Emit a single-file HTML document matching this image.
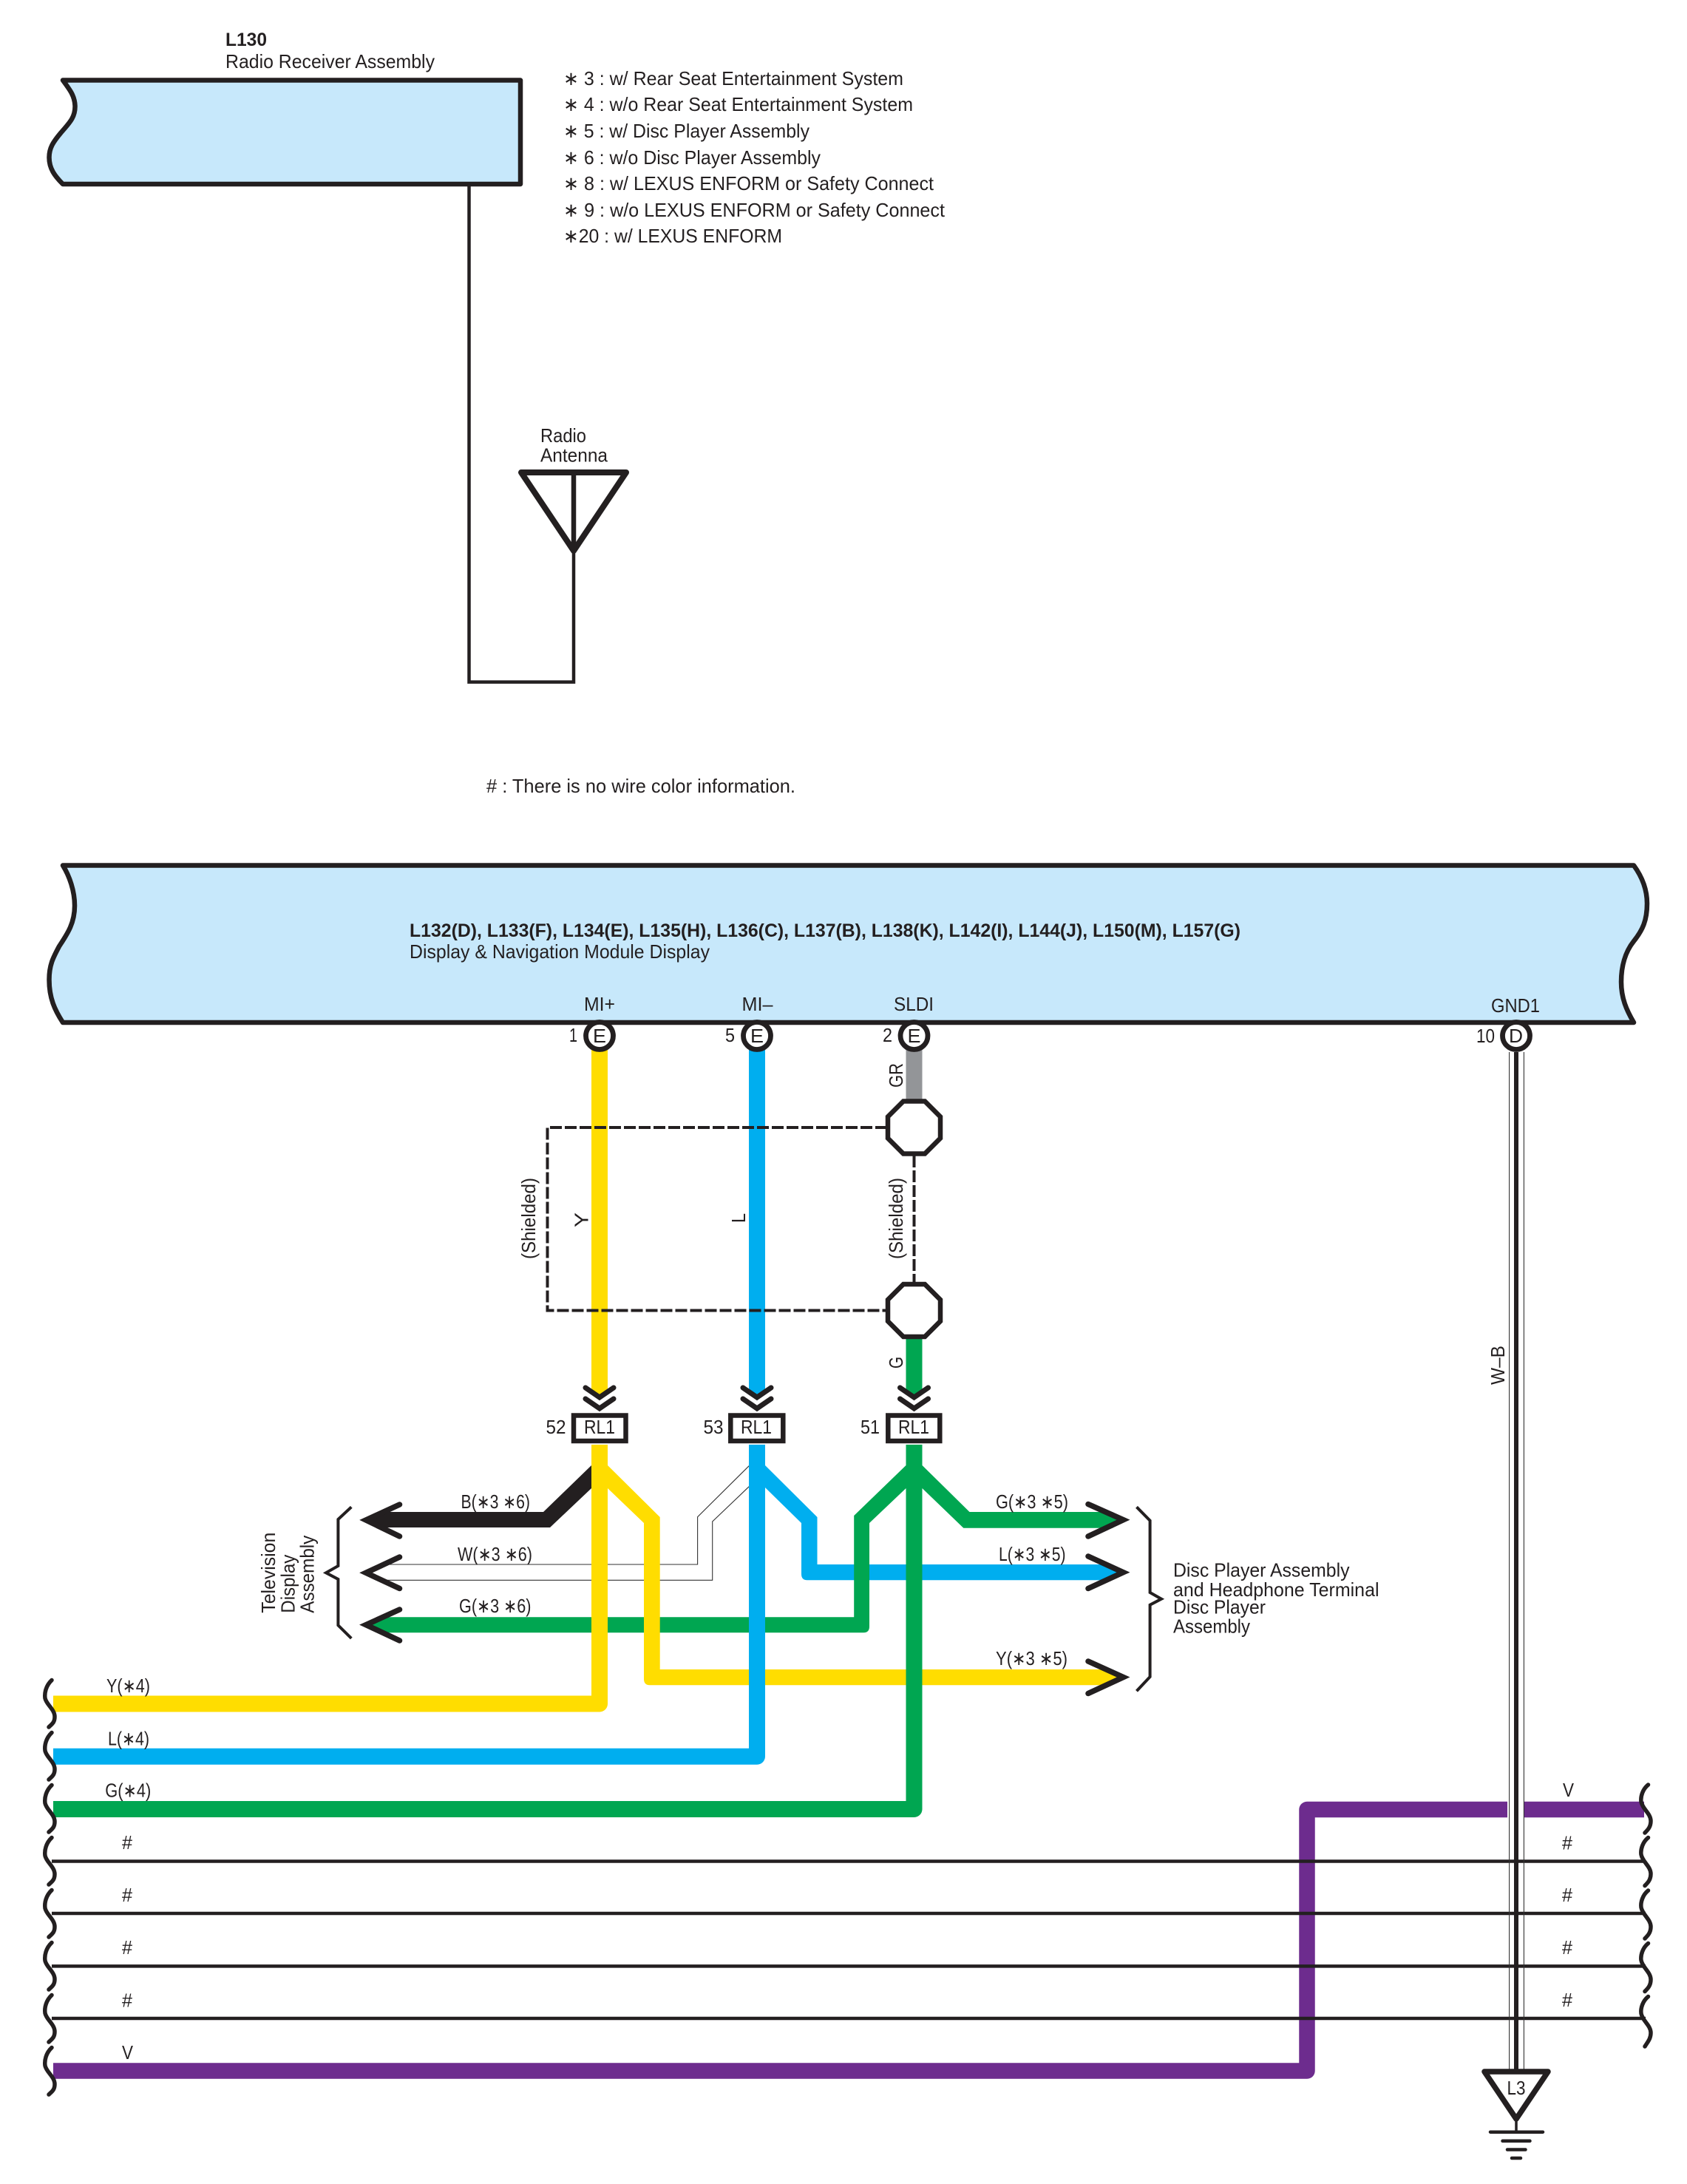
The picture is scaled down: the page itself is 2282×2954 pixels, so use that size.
<!DOCTYPE html>
<html><head><meta charset="utf-8"><title>Wiring diagram</title>
<style>
html,body{margin:0;padding:0;background:#fff}
svg{display:block}
text{font-family:"Liberation Sans","DejaVu Sans",sans-serif;font-size:26px;fill:#231f20}
.b{font-weight:bold;font-size:25px}
</style></head><body>
<svg xmlns="http://www.w3.org/2000/svg" width="2282" height="2954" viewBox="0 0 2282 2954">
<rect width="2282" height="2954" fill="#fff"/>

<!-- Top receiver box -->
<path d="M85 108.500 H704 V249 H85 C74 238 66.500 228 66.500 213 C66.500 200 72 192 82 180 C92 168 102 160 101.500 143 C101 130 95 122 85 108.500Z" fill="#c7e8fb" stroke="#231f20" stroke-width="6.500" stroke-linejoin="round"/>
<text class="b" x="305" y="62" textLength="56" lengthAdjust="spacingAndGlyphs">L130</text>
<text x="305" y="92" textLength="283" lengthAdjust="spacingAndGlyphs">Radio Receiver Assembly</text>

<text x="762" y="115" textLength="460" lengthAdjust="spacingAndGlyphs">∗ 3 : w/ Rear Seat Entertainment System</text>
<text x="762" y="150" textLength="473" lengthAdjust="spacingAndGlyphs">∗ 4 : w/o Rear Seat Entertainment System</text>
<text x="762" y="186" textLength="333" lengthAdjust="spacingAndGlyphs">∗ 5 : w/ Disc Player Assembly</text>
<text x="762" y="222" textLength="348" lengthAdjust="spacingAndGlyphs">∗ 6 : w/o Disc Player Assembly</text>
<text x="762" y="257" textLength="501" lengthAdjust="spacingAndGlyphs">∗ 8 : w/ LEXUS ENFORM or Safety Connect</text>
<text x="762" y="293" textLength="516" lengthAdjust="spacingAndGlyphs">∗ 9 : w/o LEXUS ENFORM or Safety Connect</text>
<text x="762" y="328" textLength="296" lengthAdjust="spacingAndGlyphs">∗20 : w/ LEXUS ENFORM</text>

<!-- Antenna -->
<path d="M634.500 249 V922.500 H776 V747" fill="none" stroke="#231f20" stroke-width="4.500"/>
<path d="M705 639 H847 L776 745 Z" fill="none" stroke="#231f20" stroke-width="8" stroke-linejoin="round"/>
<path d="M776 639 V745" stroke="#231f20" stroke-width="6.500"/>
<text x="731" y="598" textLength="62" lengthAdjust="spacingAndGlyphs">Radio</text>
<text x="731" y="624.500" textLength="91" lengthAdjust="spacingAndGlyphs">Antenna</text>

<text x="658" y="1072" textLength="418" lengthAdjust="spacingAndGlyphs"># : There is no wire color information.</text>

<!-- Main box -->
<path d="M85 1170.500 H2210 C2222 1187 2228 1205 2228 1222 C2228 1245 2222 1258 2210 1273 C2198 1288 2193 1308 2193 1328 C2193 1350 2200 1366 2210 1383 H85 C74 1366 66.500 1350 66.500 1325 C66.500 1305 72 1295 80 1280 C92 1262 101 1248 101 1225 C101 1205 94 1185 85 1170.500Z" fill="#c7e8fb" stroke="#231f20" stroke-width="6.500" stroke-linejoin="round"/>
<text class="b" x="554" y="1267" textLength="1124" lengthAdjust="spacingAndGlyphs">L132(D), L133(F), L134(E), L135(H), L136(C), L137(B), L138(K), L142(I), L144(J), L150(M), L157(G)</text>
<text x="554" y="1296" textLength="406" lengthAdjust="spacingAndGlyphs">Display &amp; Navigation Module Display</text>
<text x="790" y="1367" textLength="42" lengthAdjust="spacingAndGlyphs">MI+</text>
<text x="1003.500" y="1367" textLength="42" lengthAdjust="spacingAndGlyphs">MI–</text>
<text x="1209" y="1367" textLength="54" lengthAdjust="spacingAndGlyphs">SLDI</text>
<text x="2017" y="1369" textLength="66" lengthAdjust="spacingAndGlyphs">GND1</text>

<!-- Top vertical wires -->
<path d="M1013 1420 H1035 V1880 L1024 1889 L1013 1880Z" fill="#00aeef"/>
<path d="M800 1420 H822 V1880 L811 1889 L800 1880Z" fill="#ffdd00"/>
<path d="M1225.500 1420 H1247.500 V1490 H1225.500Z" fill="#939598"/>
<path d="M1225.500 1805 H1247.500 V1880 L1236.500 1889 L1225.500 1880Z" fill="#00a651"/>

<!-- Pins -->
<g fill="#fff" stroke="#231f20" stroke-width="6.800">
<circle cx="811" cy="1401" r="18.500"/><circle cx="1024" cy="1401" r="18.500"/><circle cx="1236.500" cy="1401" r="18.500"/><circle cx="2051" cy="1401" r="18.500"/>
</g>
<text x="802" y="1410" textLength="18" lengthAdjust="spacingAndGlyphs">E</text>
<text x="1015" y="1410" textLength="18" lengthAdjust="spacingAndGlyphs">E</text>
<text x="1227.500" y="1410" textLength="18" lengthAdjust="spacingAndGlyphs">E</text>
<text x="2041" y="1410" textLength="19" lengthAdjust="spacingAndGlyphs">D</text>
<text x="770" y="1409" textLength="11" lengthAdjust="spacingAndGlyphs">1</text>
<text x="981" y="1409" textLength="13" lengthAdjust="spacingAndGlyphs">5</text>
<text x="1194" y="1409" textLength="13" lengthAdjust="spacingAndGlyphs">2</text>
<text x="1997" y="1410" textLength="25" lengthAdjust="spacingAndGlyphs">10</text>

<!-- Shield -->
<path d="M1200 1525 H740.500 V1772.500 H1200" fill="none" stroke="#231f20" stroke-width="4" stroke-dasharray="16 4"/>
<path d="M1236.500 1563 V1734" fill="none" stroke="#231f20" stroke-width="4" stroke-dasharray="16 4"/>
<path d="M1222 1489.500 H1251 L1272 1510.500 V1539.500 L1251 1560.500 H1222 L1201 1539.500 V1510.500Z" fill="#fff" stroke="#231f20" stroke-width="6.500"/>
<path d="M1222 1737 H1251 L1272 1758 V1787 L1251 1808 H1222 L1201 1787 V1758Z" fill="#fff" stroke="#231f20" stroke-width="6.500"/>

<text transform="translate(724 1703) rotate(-90)" textLength="110" lengthAdjust="spacingAndGlyphs">(Shielded)</text>
<text transform="translate(1221 1703) rotate(-90)" textLength="110" lengthAdjust="spacingAndGlyphs">(Shielded)</text>
<text transform="translate(795.500 1660) rotate(-90)" textLength="20" lengthAdjust="spacingAndGlyphs">Y</text>
<text transform="translate(1008 1654) rotate(-90)" textLength="13" lengthAdjust="spacingAndGlyphs">L</text>
<text transform="translate(1221 1471) rotate(-90)" textLength="33" lengthAdjust="spacingAndGlyphs">GR</text>
<text transform="translate(1221 1851) rotate(-90)" textLength="16" lengthAdjust="spacingAndGlyphs">G</text>
<text transform="translate(2035 1873) rotate(-90)" textLength="53" lengthAdjust="spacingAndGlyphs">W–B</text>

<!-- Chevrons -->
<g fill="none" stroke="#231f20" stroke-width="7" stroke-linecap="round" stroke-linejoin="miter">
<path d="M792 1877 L811 1890 L830 1877 M792 1892 L811 1905 L830 1892"/>
<path d="M1005 1877 L1024 1890 L1043 1877 M1005 1892 L1024 1905 L1043 1892"/>
<path d="M1217.500 1877 L1236.500 1890 L1255.500 1877 M1217.500 1892 L1236.500 1905 L1255.500 1892"/>
</g>

<!-- White wire -->
<path d="M1013.200 1982.700 L943.600 2051.700 V2116 H515 M1013.200 2010.700 L963.700 2058 V2137.300 H515" fill="none" stroke="#333" stroke-width="1.100"/>

<!-- Black wire -->
<path d="M800 1982 L735 2045 H515 L498 2055.500 L515 2066 H744 L800 2013Z" fill="#231f20"/>

<!-- Blue branch -->
<path d="M1035 1982 L1105.500 2052 V2116 H1505 L1520 2126.700 L1505 2137.300 H1092 Q1084 2137.300 1084 2129 V2060 L1035 2012Z" fill="#00aeef"/>

<!-- Green branches -->
<path d="M515 2187.300 H1155.200 V2050 L1225.500 1982 H1247.500 L1311.500 2045 H1505 L1520 2055.700 L1505 2066.700 H1303.300 L1247.500 2013 H1225.500 L1176 2060 V2200 Q1176 2208.300 1168 2208.300 H515 L498 2197.800Z" fill="#00a651"/>

<!-- Yellow branch -->
<path d="M822 1982 L892.700 2052 V2258 H1505 L1520 2268.500 L1505 2279.300 H879 Q871 2279.300 871 2271 V2060 L822 2013Z" fill="#ffdd00"/>

<!-- Main wires -->
<path d="M811 1954 V2304.500 H72" fill="none" stroke="#ffdd00" stroke-width="22" stroke-linejoin="round"/>
<path d="M1024 1954 V2375.700 H72" fill="none" stroke="#00aeef" stroke-width="22" stroke-linejoin="round"/>
<path d="M1236.500 1954 V2447 H72" fill="none" stroke="#00a651" stroke-width="22" stroke-linejoin="round"/>

<!-- RL1 boxes -->
<g fill="#fff" stroke="#231f20" stroke-width="6.500">
<rect x="776" y="1914.500" width="70.500" height="34.500"/>
<rect x="988.300" y="1914.500" width="71" height="34.500"/>
<rect x="1201.300" y="1914.500" width="70" height="34.500"/>
</g>
<text x="790" y="1939" textLength="42" lengthAdjust="spacingAndGlyphs">RL1</text>
<text x="1002" y="1939" textLength="42" lengthAdjust="spacingAndGlyphs">RL1</text>
<text x="1215" y="1939" textLength="42" lengthAdjust="spacingAndGlyphs">RL1</text>
<text x="738.500" y="1939" textLength="27" lengthAdjust="spacingAndGlyphs">52</text>
<text x="951.500" y="1939" textLength="27" lengthAdjust="spacingAndGlyphs">53</text>
<text x="1164" y="1939" textLength="26" lengthAdjust="spacingAndGlyphs">51</text>

<!-- Arrowheads -->
<g fill="none" stroke="#231f20" stroke-width="7.500" stroke-linecap="round" stroke-linejoin="miter">
<path d="M540.500 2035 L495 2056 L540.500 2078"/>
<path d="M540.500 2106 L495 2127.300 L540.500 2148.500"/>
<path d="M540.500 2177 L495 2197.700 L540.500 2219"/>
<path d="M1472 2034.500 L1519.500 2055.700 L1472 2078"/>
<path d="M1472 2105 L1519.500 2126.700 L1472 2148.500"/>
<path d="M1472 2247 L1519.500 2268.500 L1472 2290.500"/>
</g>

<!-- Braces -->
<g fill="none" stroke="#231f20" stroke-width="4">
<path d="M475.300 2038.300 L457.400 2055 V2118 L441 2127.300 L457.400 2136 V2198.300 L475.300 2216"/>
<path d="M1537.500 2038.300 L1555.600 2056.700 V2154 L1571 2162.700 L1555.600 2170.700 V2268 L1537.500 2287.300"/>
</g>

<!-- Branch labels -->
<text x="623.500" y="2040" textLength="93.500" lengthAdjust="spacingAndGlyphs">B(∗3 ∗6)</text>
<text x="619" y="2111" textLength="101" lengthAdjust="spacingAndGlyphs">W(∗3 ∗6)</text>
<text x="621" y="2181" textLength="97.500" lengthAdjust="spacingAndGlyphs">G(∗3 ∗6)</text>
<text x="1347" y="2040" textLength="98" lengthAdjust="spacingAndGlyphs">G(∗3 ∗5)</text>
<text x="1351" y="2111" textLength="90.500" lengthAdjust="spacingAndGlyphs">L(∗3 ∗5)</text>
<text x="1347" y="2252" textLength="97" lengthAdjust="spacingAndGlyphs">Y(∗3 ∗5)</text>

<text transform="translate(372 2181.700) rotate(-90)" textLength="109" lengthAdjust="spacingAndGlyphs">Television</text>
<text transform="translate(398.500 2181.700) rotate(-90)" textLength="79" lengthAdjust="spacingAndGlyphs">Display</text>
<text transform="translate(424.500 2181.700) rotate(-90)" textLength="105" lengthAdjust="spacingAndGlyphs">Assembly</text>

<text x="1587" y="2132.300" textLength="238.500" lengthAdjust="spacingAndGlyphs">Disc Player Assembly</text>
<text x="1587" y="2159" textLength="278.500" lengthAdjust="spacingAndGlyphs">and Headphone Terminal</text>
<text x="1587" y="2182.300" textLength="125" lengthAdjust="spacingAndGlyphs">Disc Player</text>
<text x="1587" y="2208.300" textLength="104" lengthAdjust="spacingAndGlyphs">Assembly</text>

<!-- Lower wires: purple -->
<path d="M72 2801 H1768 V2447.500 H2039 M2061 2447.500 H2224" fill="none" stroke="#6d2c8e" stroke-width="21.500" stroke-linejoin="round"/>
<!-- # lines -->
<g stroke="#231f20" stroke-width="4.500">
<path d="M70 2517.500 H2226 M70 2588 H2226 M70 2659.400 H2226 M70 2730 H2226"/>
</g>
<!-- Ground wire -->
<path d="M2041.600 1423 V2800 M2061.400 1423 V2800" stroke="#333" stroke-width="1.100"/>
<path d="M2051 1423 V2800" stroke="#231f20" stroke-width="6"/>
<path d="M2008 2802 H2094 L2051 2866Z" fill="#fff" stroke="#231f20" stroke-width="7.500" stroke-linejoin="round"/>
<text x="2038.500" y="2833" textLength="25" lengthAdjust="spacingAndGlyphs">L3</text>
<path d="M2051 2866 V2884" stroke="#231f20" stroke-width="3.500"/>
<g stroke="#231f20" stroke-width="4.500" stroke-linecap="round">
<path d="M2016 2883.700 H2087 M2032.500 2895.800 H2069.500 M2039 2907.500 H2063.500 M2045 2919 H2057"/>
</g>

<!-- Left wavy breaks -->
<g fill="none" stroke="#231f20" stroke-width="5.500" stroke-linecap="round">
<path d="M70 2272.500 C62 2280 60 2290 61 2297 C63 2306 74 2312 74 2322 C74 2330 70 2332 66 2336"/>
<path d="M70 2343.500 C62 2351 60 2361 61 2368 C63 2377 74 2383 74 2393 C74 2401 70 2403 66 2407"/>
<path d="M70 2414.500 C62 2422 60 2432 61 2439 C63 2448 74 2454 74 2464 C74 2472 70 2474 66 2478"/>
<path d="M70 2485.500 C62 2493 60 2503 61 2510 C63 2519 74 2525 74 2535 C74 2543 70 2545 66 2549"/>
<path d="M70 2556.500 C62 2564 60 2574 61 2581 C63 2590 74 2596 74 2606 C74 2614 70 2616 66 2620"/>
<path d="M70 2627.500 C62 2635 60 2645 61 2652 C63 2661 74 2667 74 2677 C74 2685 70 2687 66 2691"/>
<path d="M70 2698.500 C62 2706 60 2716 61 2723 C63 2732 74 2738 74 2748 C74 2756 70 2758 66 2762"/>
<path d="M70 2769.500 C62 2777 60 2787 61 2794 C63 2803 74 2809 74 2819 C74 2827 70 2829 66 2833"/>
<!-- Right -->
<path d="M2229.500 2414 C2222 2420 2219 2430 2220 2437 C2222 2447 2233 2453 2233 2463 C2233 2471 2229 2475 2225 2479"/>
<path d="M2229.500 2485.500 C2222 2491.500 2219 2501.500 2220 2508.500 C2222 2518.500 2233 2524.500 2233 2534.500 C2233 2542.500 2229 2546.500 2225 2550.500"/>
<path d="M2229.500 2557 C2222 2563 2219 2573 2220 2580 C2222 2590 2233 2596 2233 2606 C2233 2614 2229 2618 2225 2622"/>
<path d="M2229.500 2628.500 C2222 2634.500 2219 2644.500 2220 2651.500 C2222 2661.500 2233 2667.500 2233 2677.500 C2233 2685.500 2229 2689.500 2225 2693.500"/>
<path d="M2229.500 2700.500 C2222 2706.500 2219 2716.500 2220 2723.500 C2222 2733.500 2233 2739.500 2233 2749.500 C2233 2757.500 2229 2761.500 2225 2768"/>
</g>

<!-- Left labels -->
<text x="144" y="2289" textLength="59" lengthAdjust="spacingAndGlyphs">Y(∗4)</text>
<text x="146" y="2360.500" textLength="56" lengthAdjust="spacingAndGlyphs">L(∗4)</text>
<text x="142.300" y="2430.500" textLength="62" lengthAdjust="spacingAndGlyphs">G(∗4)</text>
<text x="165" y="2501" textLength="14" lengthAdjust="spacingAndGlyphs">#</text>
<text x="165" y="2572" textLength="14" lengthAdjust="spacingAndGlyphs">#</text>
<text x="165" y="2643" textLength="14" lengthAdjust="spacingAndGlyphs">#</text>
<text x="165" y="2714.500" textLength="14" lengthAdjust="spacingAndGlyphs">#</text>
<text x="165" y="2785" textLength="15" lengthAdjust="spacingAndGlyphs">V</text>

<!-- Right labels -->
<text x="2114" y="2430" textLength="15" lengthAdjust="spacingAndGlyphs">V</text>
<text x="2113" y="2501.500" textLength="14" lengthAdjust="spacingAndGlyphs">#</text>
<text x="2113" y="2572" textLength="14" lengthAdjust="spacingAndGlyphs">#</text>
<text x="2113" y="2643" textLength="14" lengthAdjust="spacingAndGlyphs">#</text>
<text x="2113" y="2714" textLength="14" lengthAdjust="spacingAndGlyphs">#</text>
</svg>
</body></html>
